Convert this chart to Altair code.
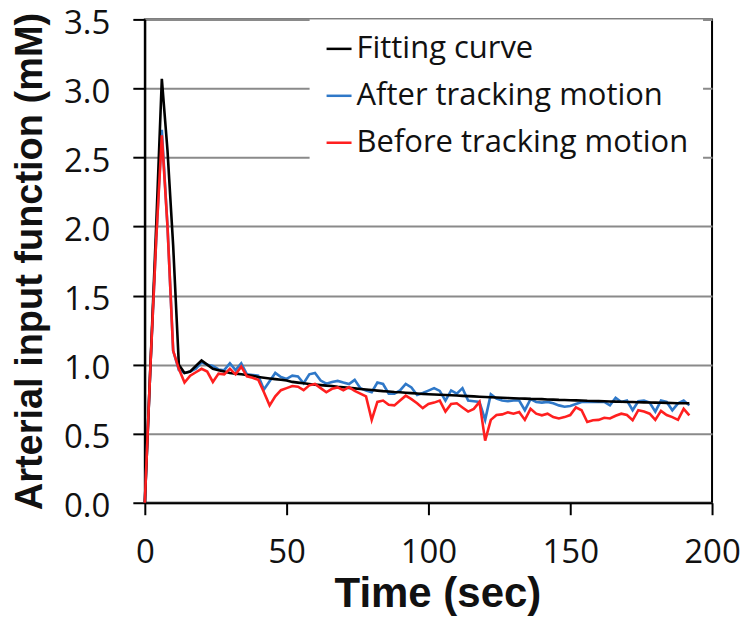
import altair as alt
import pandas as pd

time_sec = [0, 2, 4, 6, 8, 10, 12, 14, 16, 18,
            20, 22, 24, 26, 28, 30, 32, 34, 36, 38,
            40, 42, 44, 46, 48, 50, 52, 54, 56, 58,
            60, 62, 64, 66, 68, 70, 72, 74, 76, 78,
            80, 82, 84, 86, 88, 90, 92, 94, 96, 98,
            100, 102, 104, 106, 108, 110, 112, 114, 116, 118,
            120, 122, 124, 126, 128, 130, 132, 134, 136, 138,
            140, 142, 144, 146, 148, 150, 152, 154, 156, 158,
            160, 162, 164, 166, 168, 170, 172, 174, 176, 178,
            180, 182, 184, 186, 188, 190, 192]

fitting_curve = [0, 1.0, 2.0, 3.07, 2.55, 1.86, 1.0, 0.94, 0.95, 0.99,
                 1.03, 1.0, 0.97, 0.96, 0.95, 0.94, 0.935, 0.93, 0.925, 0.92,
                 0.91, 0.905, 0.90, 0.895, 0.89, 0.885, 0.875, 0.87, 0.865, 0.86,
                 0.855, 0.852, 0.848, 0.845, 0.84, 0.836, 0.832, 0.828, 0.824, 0.82,
                 0.816, 0.812, 0.808, 0.805, 0.802, 0.80, 0.797, 0.794, 0.791, 0.788,
                 0.786, 0.784, 0.782, 0.78, 0.778, 0.776, 0.774, 0.772, 0.77, 0.768,
                 0.766, 0.764, 0.762, 0.76, 0.758, 0.757, 0.755, 0.754, 0.752, 0.751,
                 0.75, 0.748, 0.747, 0.745, 0.744, 0.742, 0.741, 0.74, 0.738, 0.737,
                 0.736, 0.735, 0.733, 0.732, 0.731, 0.73, 0.729, 0.728, 0.727, 0.726,
                 0.725, 0.724, 0.723, 0.722, 0.721, 0.72, 0.72]

after_tracking = [0, 1.0, 1.9, 2.7, 2.0, 1.1, 0.96, 0.94, 0.95, 0.97,
                  1.017, 1.0, 0.99, 0.965, 0.96, 1.01, 0.96, 1.01, 0.93, 0.925,
                  0.92, 0.82, 0.88, 0.94, 0.91, 0.897, 0.92, 0.915, 0.865, 0.93,
                  0.94, 0.885, 0.862, 0.875, 0.882, 0.87, 0.86, 0.89, 0.83, 0.812,
                  0.80, 0.87, 0.86, 0.79, 0.79, 0.813, 0.86, 0.835, 0.78, 0.795,
                  0.812, 0.83, 0.81, 0.74, 0.813, 0.79, 0.83, 0.74, 0.735, 0.73,
                  0.60, 0.785, 0.755, 0.74, 0.735, 0.74, 0.74, 0.67, 0.75, 0.73,
                  0.725, 0.73, 0.72, 0.705, 0.695, 0.70, 0.715, 0.729, 0.73, 0.73,
                  0.73, 0.73, 0.705, 0.76, 0.73, 0.74, 0.67, 0.735, 0.74, 0.725,
                  0.66, 0.74, 0.73, 0.67, 0.72, 0.74, 0.705]

before_tracking = [0, 1.0, 1.9, 2.66, 2.0, 1.1, 0.97, 0.87, 0.92, 0.945,
                   0.97, 0.95, 0.875, 0.935, 0.93, 0.97, 0.93, 0.985, 0.915, 0.905,
                   0.89, 0.80, 0.705, 0.77, 0.815, 0.83, 0.845, 0.84, 0.815, 0.85,
                   0.86, 0.83, 0.80, 0.825, 0.835, 0.815, 0.837, 0.81, 0.79, 0.77,
                   0.60, 0.73, 0.74, 0.71, 0.705, 0.74, 0.775, 0.75, 0.72, 0.685,
                   0.715, 0.725, 0.74, 0.66, 0.715, 0.72, 0.69, 0.66, 0.68, 0.73,
                   0.45, 0.60, 0.635, 0.64, 0.655, 0.645, 0.657, 0.60, 0.68, 0.645,
                   0.633, 0.645, 0.62, 0.61, 0.62, 0.635, 0.69, 0.67, 0.585, 0.597,
                   0.60, 0.615, 0.61, 0.63, 0.645, 0.635, 0.597, 0.67, 0.66, 0.645,
                   0.60, 0.665, 0.635, 0.62, 0.60, 0.68, 0.633]

series_names = ["Fitting curve", "After tracking motion", "Before tracking motion"]
series_colors = ["#000000", "#2f78c8", "#ff1f1f"]
y_ticks = [0, 0.5, 1.0, 1.5, 2.0, 2.5, 3.0, 3.5]
x_ticks = [0, 50, 100, 150, 200]

frames = []
for name, vals in zip(series_names, [fitting_curve, after_tracking, before_tracking]):
    frames.append(pd.DataFrame({"Time": time_sec, "Value": vals, "Series": name}))
df = pd.concat(frames, ignore_index=True)

color = alt.Color(
    "Series:N",
    scale=alt.Scale(domain=series_names, range=series_colors),
    legend=alt.Legend(
        title=None,
        orient="none",
        legendX=165,
        legendY=0,
        fillColor="white",
        padding=14,
        symbolType="stroke",
        symbolSize=625,
        symbolStrokeWidth=2.5,
        labelOffset=2,
        labelFont="Open Sans",
        labelFontSize=31,
        labelColor="#111111",
        labelLimit=0,
        rowPadding=15,
    ),
)

x = alt.X(
    "Time:Q",
    scale=alt.Scale(domain=[0, 200], nice=False),
    axis=alt.Axis(values=x_ticks, title="Time (sec)", grid=False, labelFlush=False,
                  labelPadding=22, titlePadding=4, titleFontSize=42, titleX=293),
)
y = alt.Y(
    "Value:Q",
    scale=alt.Scale(domain=[0, 3.5], nice=False),
    axis=alt.Axis(values=y_ticks, format=".1f", title="Arterial input function (mM)",
                  grid=True, labelFlush=False, labelOffset=4,
                  labelPadding=23, titlePadding=14, titleFontSize=38),
)


def layer_for(name):
    return (
        alt.Chart(df)
        .transform_filter(alt.datum.Series == name)
        .mark_line(strokeWidth=2.6)
        .encode(x=x, y=y, color=color)
    )


chart = (
    alt.layer(layer_for("After tracking motion"),
              layer_for("Fitting curve"),
              layer_for("Before tracking motion"))
    .properties(width=568, height=484,
                autosize=alt.AutoSizeParams(type="none"),
                padding={"left": 137, "top": 11, "right": 30, "bottom": 116})
    .configure_view(stroke="black", strokeWidth=2)
    .configure_axis(
        labelFont="Open Sans", labelFontSize=33, labelColor="#111111",
        titleFont="Liberation Sans", titleFontWeight="bold",
        titleColor="#111111",
        tickSize=12, tickWidth=2, tickColor="black",
        domainColor="black", domainWidth=2,
        gridColor="#8a8a8a", gridWidth=2,
    )
)

chart.save("out.html", embed_options={"renderer": "svg", "actions": False})
